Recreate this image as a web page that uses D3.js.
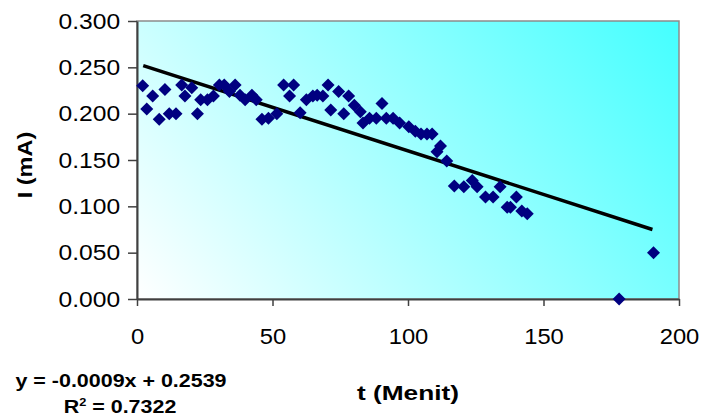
<!DOCTYPE html>
<html>
<head>
<meta charset="utf-8">
<script src="https://cdn.jsdelivr.net/npm/d3@7"></script>
<style>
  body { margin: 0; background: #fff; }
  text { font-family: "Liberation Sans", Arial, sans-serif; fill: #000; }
</style>
</head>
<body>
<div id="chart"></div>
<script>
// Time in minutes (t) and current in mA (I)
var tValues = [2.1, 3.6, 5.8, 8.2, 10.3, 11.9, 14.4, 16.5, 17.7, 20.2,
    22.3, 23.5, 26.0, 28.2, 30.4, 32.2, 34.1, 36.2, 38.0, 39.9,
    42.4, 44.0, 46.1, 48.5, 51.6, 54.1, 56.3, 57.8, 60.2, 62.5,
    64.9, 66.5, 68.6, 70.5, 71.5, 74.4, 76.3, 78.1, 80.2, 82.4,
    83.4, 85.8, 88.3, 90.4, 92.0, 94.5, 96.9, 100.3, 102.7, 104.8,
    107.0, 108.9, 110.7, 112.0, 114.3, 117.1, 120.6, 123.7, 125.5, 128.6,
    131.4, 134.0, 136.6, 137.8, 140.0, 142.0, 144.0, 177.9, 190.6];
var iValues = [0.230, 0.205, 0.219, 0.194, 0.226, 0.200, 0.200, 0.231, 0.219, 0.228,
    0.200, 0.215, 0.215, 0.219, 0.231, 0.231, 0.224, 0.231, 0.220, 0.215,
    0.220, 0.215, 0.194, 0.195, 0.200, 0.231, 0.219, 0.231, 0.201, 0.215,
    0.219, 0.220, 0.219, 0.231, 0.204, 0.224, 0.200, 0.219, 0.209, 0.202,
    0.190, 0.195, 0.195, 0.211, 0.195, 0.195, 0.190, 0.186, 0.181, 0.178,
    0.178, 0.178, 0.159, 0.165, 0.149, 0.122, 0.121, 0.128, 0.121, 0.110,
    0.110, 0.121, 0.099, 0.099, 0.110, 0.095, 0.092, 0.000, 0.050];

// Linear trend line end points
var trendT = [2.3, 190.2];
var trendI = [0.2518, 0.0750];

var xTicks = [0, 50, 100, 150, 200];
var yTicks = [0, 0.05, 0.1, 0.15, 0.2, 0.25, 0.3];
var equationText = "y = -0.0009x + 0.2539";
var rSquaredText = "0.7322";

// Dimensions
var svgWidth = 704;
var svgHeight = 419;
var plot = { left: 137, right: 679, top: 21, bottom: 299 };

var svg = d3.select("#chart")
    .append("svg")
    .attr("width", svgWidth)
    .attr("height", svgHeight);

// Background gradient of the plot area
var defs = svg.append("defs");
var grad = defs.append("linearGradient")
    .attr("id", "bg")
    .attr("gradientUnits", "userSpaceOnUse")
    .attr("x1", plot.left).attr("y1", plot.bottom)
    .attr("x2", plot.right).attr("y2", plot.top - 120);
grad.append("stop").attr("offset", "0%").attr("stop-color", "#ffffff");
grad.append("stop").attr("offset", "100%").attr("stop-color", "#2effff");

svg.append("rect")
    .attr("x", plot.left)
    .attr("y", plot.top)
    .attr("width", plot.right - plot.left)
    .attr("height", plot.bottom - plot.top)
    .attr("fill", "url(#bg)")
    .attr("stroke", "#8c8c8c")
    .attr("stroke-width", 1.5);

// Scales
var xScale = d3.scaleLinear().domain([0, 200]).range([plot.left, plot.right]);
var yScale = d3.scaleLinear().domain([0, 0.3]).range([plot.bottom, plot.top]);

// Axes
var leftAxis = d3.axisLeft(yScale)
    .tickValues(yTicks)
    .tickFormat(d3.format(".3f"))
    .tickSize(9)
    .tickSizeOuter(0)
    .tickPadding(6);
var bottomAxis = d3.axisBottom(xScale)
    .tickValues(xTicks)
    .tickFormat(d3.format("d"))
    .tickSize(7)
    .tickSizeOuter(0)
    .tickPadding(22);

var yAxisG = svg.append("g")
    .attr("transform", `translate(${plot.left}, 0)`)
    .call(leftAxis);
var xAxisG = svg.append("g")
    .attr("transform", `translate(0, ${plot.bottom})`)
    .call(bottomAxis);

[yAxisG, xAxisG].forEach(function (g) {
    g.select(".domain").attr("stroke", "#404040").attr("stroke-width", 2);
    g.selectAll(".tick line").attr("stroke", "#404040").attr("stroke-width", 1.5);
    g.selectAll(".tick text")
        .style("font-family", "'Liberation Sans', Arial, sans-serif")
        .style("font-size", "22px")
        .attr("fill", "#000");
});
yAxisG.selectAll(".tick text").attr("transform", "scale(1.12,1)");
xAxisG.selectAll(".tick text").attr("transform", "scale(1.08,1)");

// Trend line
var trendData = trendT.map((t, i) => ({ t: t, v: trendI[i] }));
svg.append("path")
    .datum(trendData)
    .attr("d", d3.line().x(d => xScale(d.t)).y(d => yScale(d.v)))
    .attr("stroke", "#000")
    .attr("stroke-width", 3.5)
    .attr("fill", "none");

// Data points as diamonds
var points = tValues.map((t, i) => ({ t: t, v: iValues[i] }));
var r = 6.5;
svg.append("g")
    .selectAll("path")
    .data(points)
    .enter()
    .append("path")
    .attr("d", `M0,${-r}L${r},0L0,${r}L${-r},0Z`)
    .attr("transform", d => `translate(${xScale(d.t)}, ${yScale(d.v)})`)
    .attr("fill", "#000080");

// Axis titles
svg.append("text")
    .attr("transform", `translate(${(plot.left + plot.right) / 2}, 400) scale(1.25,1)`)
    .attr("text-anchor", "middle")
    .style("font-size", "21px")
    .style("font-weight", "bold")
    .text("t (Menit)");

svg.append("text")
    .attr("transform", `translate(32, ${(plot.top + plot.bottom) / 2 + 5}) rotate(-90) scale(1.12,1)`)
    .attr("text-anchor", "middle")
    .style("font-size", "21px")
    .style("font-weight", "bold")
    .text("I (mA)");

// Trend equation
svg.append("text")
    .attr("transform", "translate(121, 387) scale(1.16,1)")
    .attr("text-anchor", "middle")
    .style("font-size", "18.5px")
    .style("font-weight", "bold")
    .text(equationText);

var r2 = svg.append("text")
    .attr("transform", "translate(120, 413) scale(1.16,1)")
    .attr("text-anchor", "middle")
    .style("font-size", "18.5px")
    .style("font-weight", "bold");
r2.append("tspan").text("R");
r2.append("tspan").attr("dy", -7).style("font-size", "11px").text("2");
r2.append("tspan").attr("dy", 7).text(" = " + rSquaredText);
</script>
</body>
</html>
